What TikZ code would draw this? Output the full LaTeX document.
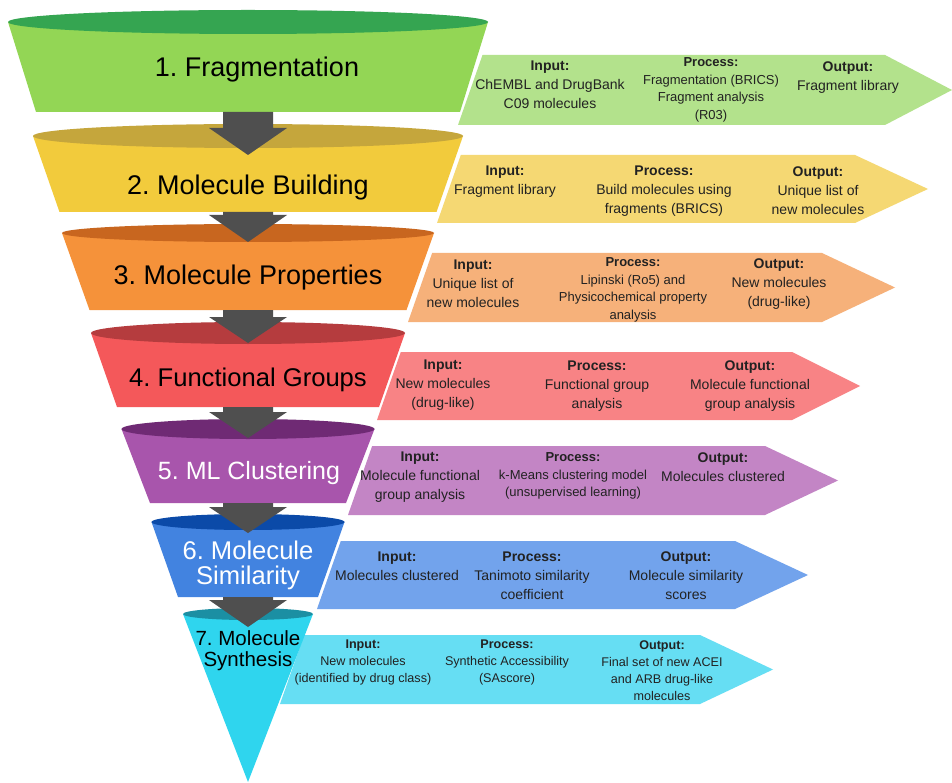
\documentclass[tikz,border=0pt]{standalone}
\usepackage{fontspec}
\setmainfont{Liberation Sans}
\frenchspacing

% funnel bodies, rims and side banners
\definecolor{bodyA}{HTML}{93D655}\definecolor{rimA}{HTML}{35A551}\definecolor{bandA}{HTML}{B3E28C}
\definecolor{bodyB}{HTML}{F2CB3C}\definecolor{rimB}{HTML}{C5A63C}\definecolor{bandB}{HTML}{F5D873}
\definecolor{bodyC}{HTML}{F5923A}\definecolor{rimC}{HTML}{C8661F}\definecolor{bandC}{HTML}{F6B17A}
\definecolor{bodyD}{HTML}{F4585A}\definecolor{rimD}{HTML}{B53C3E}\definecolor{bandD}{HTML}{F88385}
\definecolor{bodyE}{HTML}{A855AC}\definecolor{rimE}{HTML}{6F2A74}\definecolor{bandE}{HTML}{C385C5}
\definecolor{bodyF}{HTML}{4283E0}\definecolor{rimF}{HTML}{0B4AA8}\definecolor{bandF}{HTML}{72A3EC}
\definecolor{bodyG}{HTML}{2FD5EE}\definecolor{rimG}{HTML}{1B8FA3}\definecolor{bandG}{HTML}{66DEF3}
\definecolor{flowgray}{HTML}{4F4F4F}
\definecolor{ink}{HTML}{222222}

% side banner: colour, top, bottom, left x at bottom, end of body, tip x
\newcommand\infoband[6]{%
  \fill[#1] ({#4+0.35*(#3-#2)},#2) -- (#5,#2) -- (#6,{(#2+#3)/2}) -- (#5,#3) -- (#4,#3) -- cycle;}
% funnel layer: body, rim, rim y, rim half width, rim half height, bottom y, bottom half width
\newcommand\funnellayer[7]{%
  \fill[#1] ({248-#4},#3) -- ({248+#4},#3) -- ({248+#7},#6) -- ({248-#7},#6) -- cycle;
  \fill[#2] (248,#3) ellipse [x radius=#4pt, y radius=#5pt];}
% downward flow arrow: shaft top, head top, tip
\newcommand\flowarrow[3]{%
  \fill[flowgray] (223,#1) -- (273,#1) -- (273,#2) -- (287,#2) -- (248,#3) -- (209,#2) -- (223,#2) -- cycle;}

\begin{document}
\begin{tikzpicture}[x=1pt,y=-1pt,
  title/.style={font=\fontsize{27}{30}\selectfont, text=black, align=center, inner sep=0pt},
  info/.style={font=\fontsize{14}{19}\selectfont, text=ink, align=center, inner sep=0pt},
  infosmall/.style={font=\fontsize{13}{17.5}\selectfont, text=ink, align=center, inner sep=0pt},
  infotiny/.style={font=\fontsize{12.6}{17}\selectfont, text=ink, align=center, inner sep=0pt}]
\useasboundingbox (0,0) rectangle (952,783);
\fill[white] (0,0) rectangle (952,783);

% side banners, drawn first so the funnel covers their left ends
\infoband{bandA}{55}{125}{458}{885}{952}
\infoband{bandB}{155}{223}{437}{855}{928}
\infoband{bandC}{253}{322}{408}{822}{895}
\infoband{bandD}{352}{420}{377}{792}{860}
\infoband{bandE}{446}{515}{348}{765}{838}
\infoband{bandF}{541}{609}{317}{735}{808}
\infoband{bandG}{635}{704}{280}{700}{773}

% funnel layers
\funnellayer{bodyA}{rimA}{22}{240}{12}{112}{212}
\funnellayer{bodyB}{rimB}{136}{215}{12}{212}{188.5}
\funnellayer{bodyC}{rimC}{233}{186}{9}{310}{158.5}
\funnellayer{bodyD}{rimD}{333}{157}{11}{407}{131}
\funnellayer{bodyE}{rimE}{429}{126.5}{10}{503}{98}
\funnellayer{bodyF}{rimF}{522}{96.5}{8}{597}{70}
\fill[bodyG] (183,614) -- (313,614) -- (248,782) -- cycle;
\fill[rimG] (248,614) ellipse [x radius=65pt, y radius=6pt];

% flow arrows between layers
\flowarrow{112}{128}{155}
\flowarrow{212}{215}{242}
\flowarrow{310}{317}{343}
\flowarrow{407}{412}{438}
\flowarrow{503}{507}{533}
\flowarrow{597}{600}{627}

% layer titles
\node[title] (t1) at (257,70) {1. Fragmentation};
\node[title] (t2) at (248,188) {2. Molecule Building};
\node[title] (t3) at (248,278) {3. Molecule Properties};
\node[title,font=\fontsize{25.6}{30}\selectfont] (t4) at (248,380) {4. Functional Groups};
\node[title,font=\fontsize{25}{30}\selectfont,text=white] (t5) at (249,473) {5. ML Clustering};
\node[title,font=\fontsize{25.6}{25}\selectfont,text=white] (t6) at (248,565) {6. Molecule\\Similarity};
\node[title,font=\fontsize{20.5}{21}\selectfont] (t7) at (248,651) {7. Molecule\\Synthesis};

% step 1
\node[info] (in1) at (550,85) {\textbf{Input:}\\ChEMBL and DrugBank\\C09 molecules};
\node[infosmall] (pr1) at (711,90) {\textbf{Process:}\\Fragmentation (BRICS)\\Fragment analysis\\(R03)};
\node[info] (out1) at (848,78) {\textbf{Output:}\\Fragment library};
% step 2
\node[info] (in2) at (505,181.5) {\textbf{Input:}\\Fragment library};
\node[info] (pr2) at (664,191) {\textbf{Process:}\\Build molecules using\\fragments (BRICS)};
\node[info] (out2) at (818,191) {\textbf{Output:}\\Unique list of\\new molecules};
% step 3
\node[info] (in3) at (473,284) {\textbf{Input:}\\Unique list of\\new molecules};
\node[infosmall] (pr3) at (633,290) {\textbf{Process:}\\Lipinski (Ro5) and\\Physicochemical property\\analysis};
\node[info] (out3) at (779,284) {\textbf{Output:}\\New molecules\\(drug-like)};
% step 4
\node[info] (in4) at (443,385) {\textbf{Input:}\\New molecules\\(drug-like)};
\node[info] (pr4) at (597,386) {\textbf{Process:}\\Functional group\\analysis};
\node[info] (out4) at (750,386) {\textbf{Output:}\\Molecule functional\\group analysis};
% step 5
\node[info] (in5) at (420,477) {\textbf{Input:}\\Molecule functional\\group analysis};
\node[infosmall] (pr5) at (573,476) {\textbf{Process:}\\k-Means clustering model\\(unsupervised learning)};
\node[info] (out5) at (723,467.5) {\textbf{Output:}\\Molecules clustered};
% step 6
\node[info] (in6) at (397,566.5) {\textbf{Input:}\\Molecules clustered};
\node[info] (pr6) at (532,576) {\textbf{Process:}\\Tanimoto similarity\\coefficient};
\node[info] (out6) at (686,576) {\textbf{Output:}\\Molecule similarity\\scores};
% step 7
\node[infotiny] (in7) at (363,662) {\textbf{Input:}\\New molecules\\(identified by drug class)};
\node[infotiny] (pr7) at (507,662) {\textbf{Process:}\\Synthetic Accessibility\\(SAscore)};
\node[infotiny] (out7) at (662,670.5) {\textbf{Output:}\\Final set of new ACEI\\and ARB drug-like\\molecules};
\end{tikzpicture}
\end{document}
